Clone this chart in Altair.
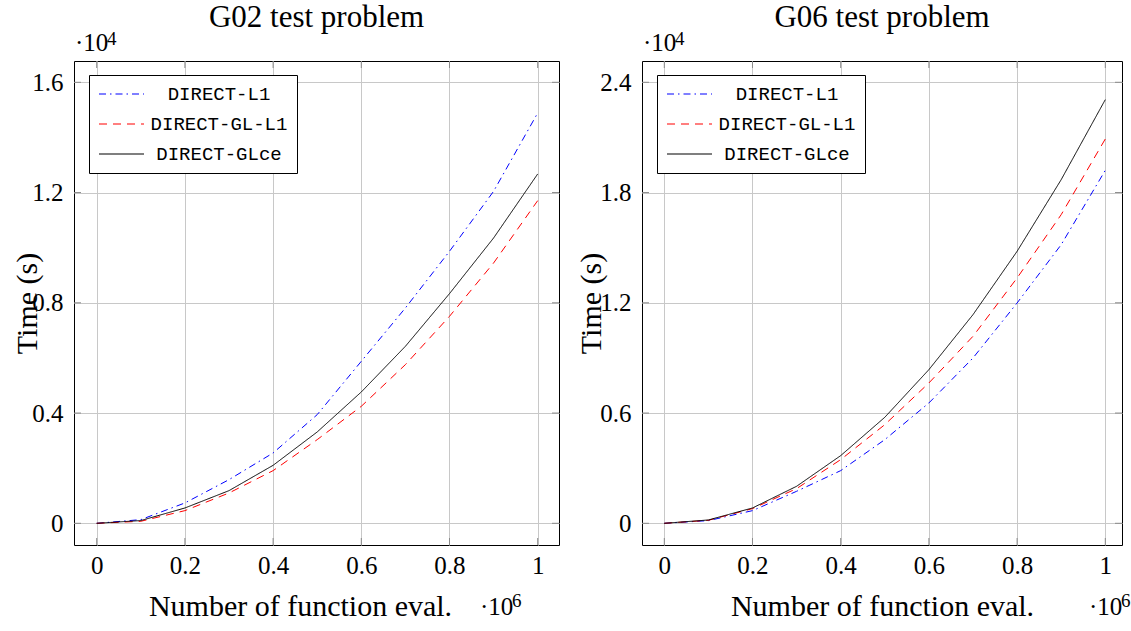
import altair as alt
import pandas as pd

# ---------------- data ----------------
methods = ["DIRECT-L1", "DIRECT-GL-L1", "DIRECT-GLce"]
colors = ["#0000ff", "#ff0000", "#000000"]
dashes = [[7, 4, 1.5, 4], [8, 6], [1, 0]]

evals = [0, 100000, 200000, 300000, 400000, 500000, 600000, 700000, 800000, 900000, 1000000]

g02_l1 = [0, 133, 738, 1584, 2552, 3943, 5878, 7813, 9869, 12046, 14888]
g02_gll1 = [0, 73, 460, 1100, 1911, 3036, 4245, 5757, 7510, 9445, 11707]
g02_glce = [0, 100, 556, 1185, 2104, 3314, 4765, 6422, 8333, 10352, 12675]

g06_l1 = [0, 145, 689, 1741, 2866, 4553, 6549, 8997, 11990, 15165, 19210]
g06_gll1 = [0, 163, 798, 1887, 3465, 5369, 7637, 10177, 13351, 16798, 20916]
g06_glce = [0, 181, 834, 2014, 3683, 5769, 8363, 11356, 14802, 18703, 23057]

x_ticks = [0, 200000, 400000, 600000, 800000, 1000000]
g02_y_ticks = [0, 4000, 8000, 12000, 16000]
g06_y_ticks = [0, 6000, 12000, 18000, 24000]

SERIF = "Liberation Serif"
MONO = "Liberation Mono"


def make_df(series):
    rows = []
    for m, vals in zip(methods, series):
        for e, v in zip(evals, vals):
            rows.append({"evals": e, "time": v, "method": m})
    return pd.DataFrame(rows)


def panel(series, title, xdom, ydom, yticks, w, h, ytitle_x, xtitle_x, xexp_x):
    df = make_df(series)
    xsc = alt.Scale(domain=xdom, nice=False, zero=False)
    ysc = alt.Scale(domain=ydom, nice=False, zero=False)
    xax = alt.Axis(values=x_ticks, labelExpr="datum.value / 1000000",
                   title="Number of function eval.", grid=True, ticks=False,
                   domain=False, labelPadding=8, titleX=xtitle_x, titleY=70,
                   titleAlign="center", titleBaseline="alphabetic")
    yax = alt.Axis(values=yticks, labelExpr="datum.value / 10000",
                   title="Time (s)", grid=True, ticks=False, domain=False,
                   labelPadding=11, titleX=ytitle_x, titleY=h / 2,
                   titleAngle=270, titleAlign="center", titleBaseline="alphabetic")
    xenc = alt.X("evals:Q", scale=xsc, axis=xax)
    yenc = alt.Y("time:Q", scale=ysc, axis=yax)

    leg = alt.Legend(title=None, orient="none", legendX=15, legendY=14,
                     direction="vertical", symbolType="M-1,0L4,0",
                     symbolSize=324, symbolStrokeWidth=1.2, labelAlign="center",
                     labelOffset=101, labelFont=MONO, labelFontSize=19,
                     labelColor="black", rowPadding=10, padding=9,
                     strokeColor="black", fillColor="white", cornerRadius=0)

    lines = alt.Chart(df).mark_line(strokeWidth=1).encode(
        x=xenc, y=yenc,
        color=alt.Color("method:N", scale=alt.Scale(domain=methods, range=colors), legend=leg),
        strokeDash=alt.StrokeDash("method:N", scale=alt.Scale(domain=methods, range=dashes), legend=leg),
        order=alt.Order("evals:Q"),
    )

    xt = pd.DataFrame({"evals": x_ticks})
    yt = pd.DataFrame({"time": yticks})
    tick_col = "#8a8a8a"
    xb = alt.Chart(xt).mark_rule(color=tick_col, strokeWidth=1).encode(
        x=xenc, y=alt.value(h), y2=alt.value(h - 7))
    xtop = alt.Chart(xt).mark_rule(color=tick_col, strokeWidth=1).encode(
        x=xenc, y=alt.value(0), y2=alt.value(7))
    yl = alt.Chart(yt).mark_rule(color=tick_col, strokeWidth=1).encode(
        y=yenc, x=alt.value(0), x2=alt.value(7))
    yr = alt.Chart(yt).mark_rule(color=tick_col, strokeWidth=1).encode(
        y=yenc, x=alt.value(w), x2=alt.value(w - 7))

    one = pd.DataFrame({"a": [0]})
    t_title = alt.Chart(one).mark_text(text=title, font=SERIF, fontSize=31,
                                       align="center", baseline="alphabetic",
                                       color="black").encode(
        x=alt.value(w / 2), y=alt.value(-34))
    t_y10 = alt.Chart(one).mark_text(text="·10", font=SERIF, fontSize=25,
                                     align="left", baseline="alphabetic",
                                     color="black").encode(
        x=alt.value(1), y=alt.value(-10))
    t_y4 = alt.Chart(one).mark_text(text="4", font=SERIF, fontSize=19,
                                    align="left", baseline="alphabetic",
                                    color="black").encode(
        x=alt.value(33), y=alt.value(-16))
    t_x10 = alt.Chart(one).mark_text(text="·10", font=SERIF, fontSize=25,
                                     align="left", baseline="alphabetic",
                                     color="black").encode(
        x=alt.value(xexp_x), y=alt.value(h + 70))
    t_x6 = alt.Chart(one).mark_text(text="6", font=SERIF, fontSize=19,
                                    align="left", baseline="alphabetic",
                                    color="black").encode(
        x=alt.value(xexp_x + 32), y=alt.value(h + 62))

    return alt.layer(xb, xtop, yl, yr, lines, t_title, t_y10, t_y4, t_x10, t_x6).properties(
        width=w, height=h)


left = panel([g02_l1, g02_gll1, g02_glce], "G02 test problem",
             [-51474, 1048300], [-787, 16773], g02_y_ticks, 485, 484,
             -38, 226, 406)
right = panel([g06_l1, g06_gll1, g06_glce], "G06 test problem",
              [-50567, 1037870], [-1181, 25159], g06_y_ticks, 480, 484,
              -42, 240, 447)

chart = alt.hconcat(left, right, spacing=15).resolve_scale(
    color="independent", strokeDash="independent", x="independent", y="independent"
).resolve_legend(
    color="independent", strokeDash="independent"
).properties(
    padding={"left": 11, "top": 1, "right": 0, "bottom": 0}, background="white"
).configure_view(
    stroke="black", strokeWidth=1
).configure_axis(
    labelFont=SERIF, labelFontSize=25, labelColor="black",
    titleFont=SERIF, titleFontSize=30, titleFontWeight="normal", titleColor="black",
    gridColor="#c8c8c8", gridWidth=1
)

chart.save("out.html", embed_options={"renderer": "svg", "actions": False})
